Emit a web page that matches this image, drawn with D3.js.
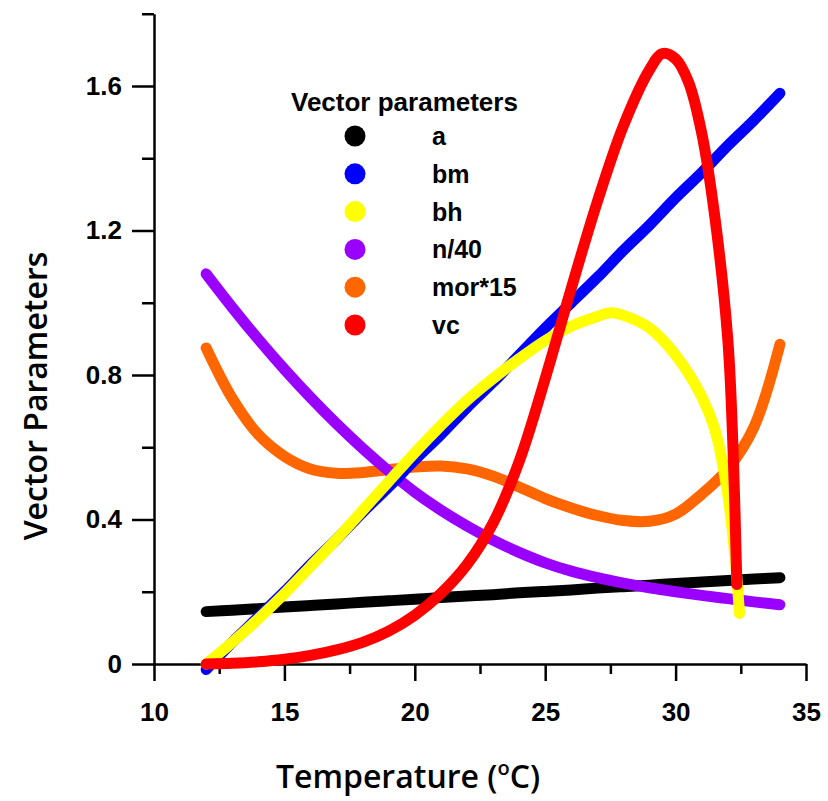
<!DOCTYPE html>
<html>
<head>
<meta charset="utf-8">
<script src="https://cdn.jsdelivr.net/npm/d3@7"></script>
<style>
  body { margin: 0; background: #fff; }
  svg { display: block; }
</style>
</head>
<body>
<svg id="chart" width="828" height="801"></svg>
<script>
// temperatures shared by the full-range series
const temps = [12,13,14,15,16,17,18,19,20,21,22,23,24,25,26,27,28,29,30,31,32,33,34];
const aVals   = [0.145,0.149,0.153,0.158,0.162,0.166,0.171,0.175,0.179,0.184,0.188,0.192,0.197,0.201,0.205,0.210,0.214,0.218,0.223,0.227,0.231,0.235,0.239];
const bmVals  = [-0.015,0.06,0.13,0.2,0.275,0.345,0.42,0.49,0.565,0.635,0.71,0.78,0.855,0.93,1.0,1.07,1.145,1.215,1.29,1.36,1.435,1.505,1.58];
const nVals   = [1.08,0.987,0.899,0.816,0.738,0.665,0.597,0.534,0.476,0.426,0.382,0.343,0.309,0.28,0.257,0.239,0.224,0.211,0.2,0.19,0.181,0.172,0.164];
const morVals = [0.875,0.735,0.635,0.575,0.54,0.528,0.53,0.538,0.545,0.548,0.54,0.52,0.49,0.458,0.432,0.411,0.397,0.395,0.415,0.47,0.54,0.655,0.885];

// bh and vc stop near 32.4 °C
const tempsBh = [12,13,14,15,16,17,18,19,20,21,22,23,24,25,26,27,27.5,28,29,30,31,31.5,32,32.3,32.45];
const bhVals  = [0.0,0.06,0.125,0.195,0.27,0.345,0.425,0.505,0.585,0.66,0.73,0.79,0.845,0.895,0.935,0.962,0.972,0.965,0.93,0.855,0.74,0.65,0.47,0.28,0.14];

const tempsVc = [12,13,14,15,16,17,18,19,20,21,22,23,24,25,26,27,28,29,29.5,30,30.5,31,31.5,32,32.2,32.35];
const vcVals  = [0.0,0.002,0.006,0.013,0.024,0.039,0.06,0.091,0.135,0.195,0.275,0.39,0.56,0.79,1.04,1.28,1.49,1.645,1.69,1.675,1.61,1.47,1.24,0.9,0.6,0.22];

const seriesNames  = ["a", "bm", "bh", "n/40", "mor*15", "vc"];
const seriesColors = ["#000000", "#0000ff", "#ffff00", "#9900ff", "#ff6600", "#ff0000"];

const xMajor = [10, 15, 20, 25, 30, 35];
const xMinor = [12.5, 17.5, 22.5, 27.5, 32.5];
const yMajor = [0, 0.4, 0.8, 1.2, 1.6];
const yMinor = [0.2, 0.6, 1.0, 1.4, 1.8];

const svg = d3.select("#chart");
svg.append("rect").attr("width", 828).attr("height", 801).attr("fill", "#fff");

const x = d3.scaleLinear().domain([10, 35]).range([154, 806]);
const y = d3.scaleLinear().domain([0, 1.8]).range([664, 13.75]);

const tickFont = "'Liberation Sans', Arial, sans-serif";

// y axis
svg.append("g").attr("transform", `translate(${x(10)},0)`)
  .call(d3.axisLeft(y).tickValues(yMajor).tickSize(22).tickSizeOuter(0).tickPadding(10)
    .tickFormat(d => d === 0 ? "0" : d3.format(".1f")(d)));
svg.append("g").attr("transform", `translate(${x(10)},0)`)
  .call(d3.axisLeft(y).tickValues(yMinor).tickSize(12).tickSizeOuter(0).tickFormat(""))
  .select(".domain").remove();

// x axis
svg.append("g").attr("transform", `translate(0,${y(0)})`)
  .call(d3.axisBottom(x).tickValues(xMajor).tickSize(17).tickSizeOuter(0).tickPadding(22)
    .tickFormat(d3.format("d")));
svg.append("g").attr("transform", `translate(0,${y(0)})`)
  .call(d3.axisBottom(x).tickValues(xMinor).tickSize(10).tickSizeOuter(0).tickFormat(""))
  .select(".domain").remove();

svg.selectAll(".domain, .tick line").attr("stroke", "#000").attr("stroke-width", 2.5);
svg.selectAll(".tick text")
  .attr("font-family", tickFont).attr("font-weight", "bold").attr("font-size", 26).attr("fill", "#000");

// curves
const line = d3.line().x(d => x(d[0])).y(d => y(d[1])).curve(d3.curveCatmullRom.alpha(0.5));
const zip = (ts, vs) => ts.map((t, i) => [t, vs[i]]);

const drawOrder = [
  { name: "a",      pts: zip(temps, aVals) },
  { name: "mor*15", pts: zip(temps, morVals) },
  { name: "n/40",   pts: zip(temps, nVals) },
  { name: "bm",     pts: zip(temps, bmVals) },
  { name: "bh",     pts: zip(tempsBh, bhVals) },
  { name: "vc",     pts: zip(tempsVc, vcVals) }
];

svg.append("g").selectAll("path").data(drawOrder).join("path")
  .attr("d", d => line(d.pts))
  .attr("fill", "none")
  .attr("stroke", d => seriesColors[seriesNames.indexOf(d.name)])
  .attr("stroke-width", 11)
  .attr("stroke-linecap", "round")
  .attr("stroke-linejoin", "round");

// legend
const legend = svg.append("g");
legend.append("text").attr("x", 291).attr("y", 111)
  .attr("font-family", tickFont).attr("font-weight", "bold").attr("font-size", 26)
  .text("Vector parameters");
const items = legend.selectAll("g.item").data(seriesNames).join("g").attr("class", "item")
  .attr("transform", (d, i) => `translate(0,${136 + i * 37.8})`);
items.append("circle").attr("cx", 355).attr("r", 10.5).attr("fill", (d, i) => seriesColors[i]);
items.append("text").attr("x", 432).attr("dy", "0.36em")
  .attr("font-family", tickFont).attr("font-weight", "bold").attr("font-size", 25)
  .text(d => d);

// axis titles
const titleFont = "'Open Sans', 'Noto Sans', sans-serif";
const xt = svg.append("text").attr("x", 408).attr("y", 788).attr("text-anchor", "middle")
  .attr("font-family", titleFont).attr("font-weight", 600).attr("font-size", 32).attr("fill", "#000");
xt.append("tspan").text("Temperature (");
xt.append("tspan").attr("font-size", 20).attr("dy", -13).text("o");
xt.append("tspan").attr("dy", 13).text("C)");

svg.append("text").attr("transform", "translate(47,396) rotate(-90)").attr("text-anchor", "middle")
  .attr("font-family", titleFont).attr("font-weight", 600).attr("font-size", 32).attr("fill", "#000")
  .text("Vector Parameters");
</script>
</body>
</html>
